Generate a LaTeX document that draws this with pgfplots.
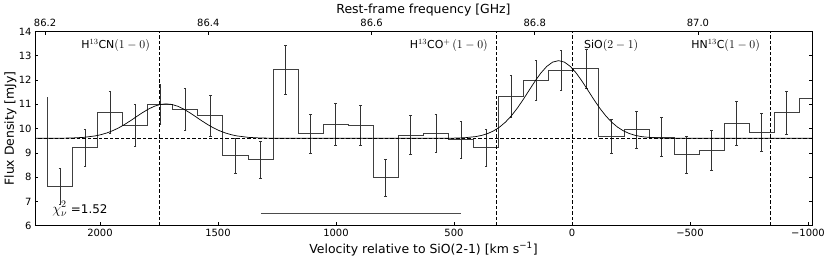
\documentclass[border=0pt]{standalone}
\usepackage{pgfplots}
\pgfplotsset{compat=1.18}
\usepackage{pgfplotstable}
\usepackage{fontspec}
\setmainfont{DejaVu Sans}

\pgfplotstableread{
v y e
2170 7.63 0.73
2063 9.21 0.75
1957 10.67 0.86
1851 10.14 0.88
1745 10.99 0.83
1639 10.81 0.86
1532 10.54 0.85
1426 8.89 0.72
1320 8.72 0.76
1214 12.42 1.00
1108 9.80 0.80
1001 10.18 0.85
895 10.12 0.82
789 7.97 0.76
683 9.73 0.80
577 9.81 0.77
470 9.55 0.77
364 9.21 0.77
258 11.33 0.88
152 12.00 0.82
46 12.40 0.81
-61 12.47 0.81
-167 9.67 0.70
-273 9.96 0.77
-379 9.65 0.80
-486 8.93 0.77
-592 9.11 0.81
-698 10.23 0.90
-804 9.85 0.80
-910 10.65 0.90
}\bins

\pgfplotstableread{
v y
2222.6 7.63
2116.4 9.21
2010.2 10.67
1904.0 10.14
1797.8 10.99
1691.6 10.81
1585.4 10.54
1479.2 8.89
1373.0 8.72
1266.8 12.42
1160.6 9.80
1054.4 10.18
948.2 10.12
842.0 7.97
735.8 9.73
629.6 9.81
523.4 9.55
417.2 9.21
311.0 11.33
204.8 12.00
98.6 12.40
-7.6 12.47
-113.8 9.67
-220.0 9.96
-326.2 9.65
-432.4 8.93
-538.6 9.11
-644.8 10.23
-751.0 9.85
-857.2 10.65
-963.4 11.23
-1017 11.23
}\steps

\begin{document}
\begin{tikzpicture}
\useasboundingbox (-35bp,-36.3bp) rectangle (795bp,225.7bp);
\begin{axis}[
  at={(0,0)}, anchor=south west,
  scale only axis, width=777bp, height=194.2bp,
  x dir=reverse,
  xmin=-1017, xmax=2275.4, ymin=6, ymax=14,
  xtick={2000,1500,1000,500,0,-500,-1000},
  xticklabels={2000,1500,1000,500,0,−500,−1000},
  ytick={6,7,8,9,10,11,12,13,14},
  yticklabels={6,7,8,9,10,11,12,13,14},
  xtick pos=left, ytick pos=both, yticklabel pos=left,
  tick align=inside,
  major tick length=3.5bp,
  tick style={black, line width=0.6bp},
  ticklabel style={font=\fontsize{10}{12}\selectfont},
  axis line style={line width=0.8bp},
  xlabel={Velocity relative to SiO(2-1) [km s\textsuperscript{−1}]},
  ylabel={Flux Density [mJy]},
  label style={font=\fontsize{12.5}{14}\selectfont, inner sep=0pt},
  xlabel style={at={(axis description cs:0.5,-0.0855)}, anchor=north},
  ylabel style={at={(axis description cs:-0.02355,0.5)}, anchor=south},
]
\addplot[black!75, line width=0.8bp, const plot mark left] table[x=v,y=y]{\steps};
\addplot[black!75, line width=0.8bp] coordinates {(2222.6,11.30) (2222.6,7.63)};
\addplot[draw=none, no markers, error bars/.cd, y dir=both, y explicit,
  error bar style={draw=black!80, line width=0.6bp},
  error mark options={rotate=90, mark size=1.3bp, line width=0.6bp, draw=black!80}]
  table[x=v,y=y,y error=e]{\bins};
\addplot[black, line width=0.7bp, dash pattern=on 3.5bp off 2bp] coordinates {(-1017,9.6) (2275.4,9.6)};
\addplot[black, line width=0.7bp, dash pattern=on 3.5bp off 2bp] coordinates {(1750,6) (1750,14)};
\addplot[black, line width=0.7bp, dash pattern=on 3.5bp off 2bp] coordinates {(320,6) (320,14)};
\addplot[black, line width=0.7bp, dash pattern=on 3.5bp off 2bp] coordinates {(0,6) (0,14)};
\addplot[black, line width=0.7bp, dash pattern=on 3.5bp off 2bp] coordinates {(-842,6) (-842,14)};
\addplot[black, line width=0.7bp] coordinates {
(2275,9.600) (2220,9.601) (2170,9.604) (2120,9.613) (2070,9.638) (2020,9.699) (1995,9.752) (1970,9.824) (1945,9.918) (1920,10.035) (1895,10.174) (1870,10.330) (1845,10.494) (1820,10.656) (1795,10.802) (1770,10.919) (1745,10.994) (1720,11.020) (1695,10.994) (1670,10.919) (1645,10.802) (1620,10.656) (1595,10.494) (1570,10.330) (1545,10.174) (1520,10.035) (1495,9.918) (1470,9.824) (1445,9.752) (1420,9.699) (1370,9.638) (1320,9.613) (1270,9.604) (1220,9.601) (557,9.601) (507,9.606) (457,9.622) (407,9.672) (382,9.721) (357,9.797) (332,9.907) (307,10.061) (282,10.266) (257,10.526) (232,10.838) (207,11.193) (182,11.572) (157,11.947) (132,12.288) (107,12.561) (82,12.739) (57,12.800) (32,12.739) (7,12.561) (-18,12.288) (-43,11.947) (-68,11.572) (-93,11.193) (-118,10.838) (-143,10.526) (-168,10.266) (-193,10.061) (-218,9.907) (-243,9.797) (-268,9.721) (-293,9.672) (-343,9.622) (-393,9.606) (-443,9.601) (-1017,9.600)};
\addplot[black!70, line width=0.9bp] coordinates {(1318,6.52) (470,6.52)};
\node[anchor=base east, inner sep=0pt, font=\fontsize{11}{13}\selectfont] at (axis cs:1788,13.29) {H{\fontsize{12}{14}\selectfont$^{13}$}CN{\fontsize{12.5}{14}\selectfont$(1-0)$}};
\node[anchor=base east, inner sep=0pt, font=\fontsize{11}{13}\selectfont] at (axis cs:356,13.30) {H{\fontsize{12}{14}\selectfont$^{13}$}CO{\fontsize{12}{14}\selectfont$^{+}$}\,{\fontsize{12.5}{14}\selectfont$(1-0)$}};
\node[anchor=base west, inner sep=0pt, font=\fontsize{11}{13}\selectfont] at (axis cs:-51,13.30) {SiO{\fontsize{12.5}{14}\selectfont$(2-1)$}};
\node[anchor=base east, inner sep=0pt, font=\fontsize{11}{13}\selectfont] at (axis cs:-797,13.30) {HN{\fontsize{12}{14}\selectfont$^{13}$}C{\fontsize{12.5}{14}\selectfont$(1-0)$}};
\node[anchor=base west, inner sep=0pt, font=\fontsize{12}{14}\selectfont] at (axis cs:2203,6.52) {{\fontsize{14}{16}\selectfont$\chi_\nu^2$} =1.52};
\end{axis}
\begin{axis}[
  at={(0,0)}, anchor=south west,
  scale only axis, width=777bp, height=194.2bp,
  xmin=86.1877, xmax=87.1397, ymin=0, ymax=1,
  axis x line*=top, axis y line=none,
  x axis line style={-, line width=0.8bp},
  xtick={86.2,86.4,86.6,86.8,87.0},
  xticklabels={86.2,86.4,86.6,86.8,87.0},
  tick align=inside,
  major tick length=3.5bp,
  tick style={black, line width=0.6bp},
  ticklabel style={font=\fontsize{10}{12}\selectfont},
  xticklabel style={yshift=1.5bp},
  xlabel={Rest-frame frequency [GHz]},
  label style={font=\fontsize{12.5}{14}\selectfont, inner sep=0pt},
  xlabel style={at={(axis description cs:0.5,1.0762)}, anchor=south},
]
\end{axis}
\end{tikzpicture}
\end{document}
